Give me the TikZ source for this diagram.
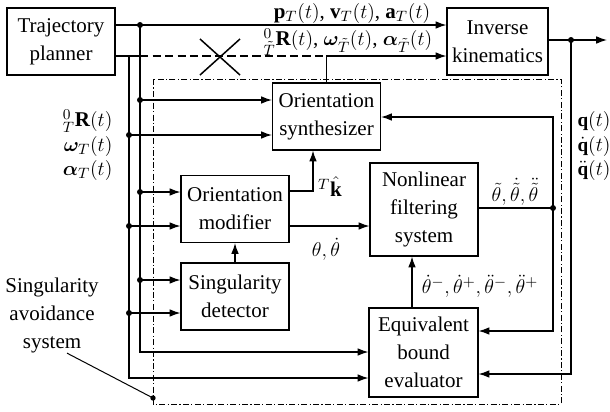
\documentclass[tikz,border=0pt]{standalone}
\usepackage{amsmath}
\usepackage{bm}
\usepackage{fontspec}
\setmainfont{Liberation Serif}
\usetikzlibrary{arrows.meta,positioning,calc}

\begin{document}
\begin{tikzpicture}[
      x=0.6pt,y=-0.6pt,
      line width=0.7pt,
      blk/.style={draw,minimum width=64.8pt,minimum height=40.2pt,
        inner sep=1pt,align=center,
        font=\fontsize{12.6}{16.8}\selectfont},
      lbl/.style={inner sep=0pt,font=\fontsize{12.6}{15}\selectfont},
      arr/.style={-{Latex[length=6.5pt,width=4.6pt]}},
      dashdot/.style={dash pattern=on 3.6pt off 1.4pt on 0.7pt off 1.4pt,line width=0.6pt}
    ]
      \useasboundingbox (0,0) rectangle (610,412);

      % blocks
      \node[blk](tp) at (61,41.5) {Trajectory\\planner};
      \node[blk,minimum width=60.6pt](ik) at (497.5,41.5) {Inverse\\kinematics};
      \node[blk](os) at (326.5,116.5) {Orientation\\synthesizer};
      \node[blk](om) at (235,209) {Orientation\\modifier};
      \node[blk](sd) at (235,296.5) {Singularity\\detector};
      \node[blk,minimum height=55.8pt](nfs) at (424,209.5) {Nonlinear\\filtering\\system};
      \node[blk,minimum width=65.4pt,minimum height=53.4pt](ebe) at (423.5,352.5)
        {Equivalent\\bound\\evaluator};

      % singularity avoidance frame
      \draw[dashdot] (153,79) rectangle (561,404);
      \coordinate (sdot) at (153,398);
      \node[lbl,align=center,font=\fontsize{12.6}{16.8}\selectfont](sas) at (52,315)
        {Singularity\\avoidance\\system};
      \draw[line width=0.6pt] ([xshift=9pt]sas.south) -- (sdot);
      \fill (sdot) circle (1.6pt);

      % buses from the planner
      \coordinate (j1) at (140,25);
      \coordinate (j2) at (129,56);
      \coordinate (b1) at (140,352);
      \coordinate (b2) at (129,378);
      \draw[arr] (tp.east |- j1) -- (ik.west |- j1);
      \draw (tp.east |- j2) -- (j1 |- j2);
      \draw[arr] (j1) -- (b1) -- (ebe.west |- b1);
      \draw[arr] (j2) -- (b2) -- (ebe.west |- b2);
      \fill (j1) circle (1.8pt);
      \foreach \y/\b in {100/os,192/om,280/sd}{
        \coordinate (a) at (140,\y);
        \draw[arr] (a) -- (\b.west |- a);
        \fill (a) circle (1.8pt);
      }
      \foreach \y/\b in {135/os,226/om,313/sd}{
        \coordinate (a) at (129,\y);
        \draw[arr] (a) -- (\b.west |- a);
        \fill (a) circle (1.8pt);
      }

      % crossed-out direct path
      \coordinate (c1) at (os.north |- j2);
      \draw[dash pattern=on 5pt off 2.5pt] (j1 |- j2) -- (c1);
      \draw[arr] (os.north) -- (c1) -- (ik.west |- c1);
      \coordinate (x0) at (220,57);
      \draw[line width=0.9pt] (x0) ++(-20,-18) -- ++(40,36)
        (x0) ++(20,-18) -- ++(-40,36);

      % joint outputs
      \coordinate (k1) at (571,40);
      \coordinate (k2) at (571,374);
      \coordinate (qout) at (607,40);
      \draw[arr] (ik.east |- k1) -- (qout);
      \draw[arr] (k1) -- (k2) -- (ebe.east |- k2);
      \fill (k1) circle (1.8pt);

      % filter output fed back
      \coordinate (f1) at (553,208);
      \coordinate (f2) at (553,117);
      \coordinate (f3) at (553,331);
      \draw (nfs.east |- f1) -- (f1);
      \draw[arr] (f1) |- (os.east |- f2);
      \draw[arr] (f1) |- (ebe.east |- f3);
      \fill (f1) circle (1.8pt);

      % inner links
      \coordinate (m1) at (313,191);
      \coordinate (m2) at (289,226);
      \coordinate (e1) at (412,308);
      \draw[arr] (om.east |- m1) -- (m1) -- (os.south -| m1);
      \draw[arr] (m2) -- (nfs.west |- m2);
      \draw[arr] (sd.north) -- (om.south);
      \draw[arr] (ebe.north -| e1) -- (nfs.south -| e1);

      % signal labels
      \node[lbl](lp) at (352,13)
        {$\mathbf{p}_T(t)$, $\mathbf{v}_T(t)$, $\mathbf{a}_T(t)$};
      \node[lbl](lr) at (348,42)
        {${}^{0}_{\tilde{T}}\mathbf{R}(t)$, $\bm{\omega}_{\tilde{T}}(t)$,
         $\bm{\alpha}_{\tilde{T}}(t)$};
      \node[lbl,anchor=east](lR) at (113,121) {${}^{0}_{T}\mathbf{R}(t)$};
      \node[lbl,anchor=east](lw) at (113,146) {$\bm{\omega}_{T}(t)$};
      \node[lbl,anchor=east](la) at (113,170) {$\bm{\alpha}_{T}(t)$};
      \node[lbl,anchor=west,font=\fontsize{11.5}{14}\selectfont](lq) at (577,121)
        {$\mathbf{q}(t)$};
      \node[lbl,anchor=west,font=\fontsize{11.5}{14}\selectfont](lqd) at (577,146)
        {$\dot{\mathbf{q}}(t)$};
      \node[lbl,anchor=west,font=\fontsize{11.5}{14}\selectfont](lqdd) at (577,170)
        {$\ddot{\mathbf{q}}(t)$};
      \node[lbl](lk) at (330,187) {${}^{T}\hat{\mathbf{k}}$};
      \node[lbl](lth) at (326,249) {$\theta, \dot{\theta}$};
      \node[lbl](lft) at (515,192)
        {$\tilde{\theta}, \dot{\tilde{\theta}}, \ddot{\tilde{\theta}}$};
      \node[lbl](lbd) at (480,286)
        {$\dot{\theta}^{-}, \dot{\theta}^{+}, \ddot{\theta}^{-}, \ddot{\theta}^{+}$};
    \end{tikzpicture}
\end{document}
